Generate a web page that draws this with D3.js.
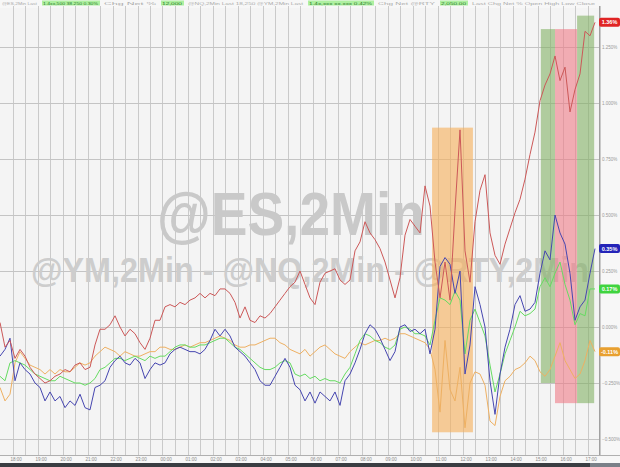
<!DOCTYPE html>
<html><head><meta charset="utf-8">
<script src="https://cdn.jsdelivr.net/npm/d3@7"></script>
<style>
html,body{margin:0;padding:0;background:#f6f6f6;}
svg{display:block;font-family:"Liberation Sans",Arial,sans-serif;}
</style></head>
<body><svg id="c" width="620" height="467"></svg>
<script>
// ---- data (percent change, 12-minute samples) ----
const stepMinutes = 12;
const seriesNames = ["@ES", "@NQ", "@YM", "@RTY"];
const red = [0.02,-0.09,-0.06,-0.14,-0.10,-0.13,-0.18,-0.21,-0.23,-0.25,
-0.24,-0.22,-0.21,-0.19,-0.20,-0.17,-0.16,-0.19,-0.18,-0.08,
-0.01,-0.01,0.01,0.05,0.00,-0.04,-0.01,-0.03,-0.07,-0.10,
-0.05,0.03,0.03,0.09,0.10,0.09,0.11,0.10,0.12,0.13,
0.15,0.13,0.15,0.14,0.17,0.17,0.15,0.11,0.04,0.09,
0.03,0.02,0.05,0.04,0.06,0.09,0.12,0.15,0.18,0.20,
0.25,0.19,0.13,0.10,0.20,0.24,0.25,0.26,0.21,0.19,
0.21,0.34,0.38,0.47,0.42,0.39,0.35,0.29,0.21,0.13,
0.22,0.41,0.48,0.45,0.42,0.63,0.54,0.29,0.13,0.29,
0.12,0.52,0.88,0.34,0.20,0.47,0.61,0.68,0.42,0.32,
0.28,0.37,0.44,0.51,0.57,0.66,0.77,0.87,1.01,1.08,
1.13,1.21,1.10,1.16,0.96,1.06,1.13,1.32,1.30,1.36];
const blue = [-0.13,-0.10,-0.05,-0.24,-0.16,-0.19,-0.21,-0.25,-0.27,-0.33,
-0.29,-0.33,-0.31,-0.36,-0.33,-0.35,-0.30,-0.36,-0.37,-0.27,
-0.26,-0.24,-0.18,-0.15,-0.13,-0.16,-0.17,-0.14,-0.16,-0.23,
-0.19,-0.16,-0.17,-0.16,-0.12,-0.10,-0.09,-0.10,-0.11,-0.11,
-0.12,-0.10,-0.06,-0.01,-0.04,-0.01,-0.04,-0.09,-0.11,-0.13,
-0.16,-0.19,-0.24,-0.26,-0.26,-0.22,-0.18,-0.14,-0.18,-0.26,
-0.28,-0.33,-0.29,-0.34,-0.29,-0.31,-0.33,-0.29,-0.35,-0.24,
-0.21,-0.16,-0.10,-0.03,0.01,-0.01,-0.05,-0.10,-0.15,-0.11,
0.00,0.01,-0.02,-0.01,-0.03,-0.01,-0.12,-0.01,0.27,0.31,
0.28,0.15,0.25,-0.21,-0.08,0.18,0.10,0.00,-0.24,-0.39,
-0.21,-0.09,-0.01,0.10,0.14,0.07,0.08,0.11,0.24,0.34,
0.30,0.50,0.42,0.37,0.24,0.03,0.09,0.12,0.24,0.35];
const green = [-0.22,-0.24,-0.16,-0.15,-0.16,-0.17,-0.19,-0.21,-0.22,-0.23,
-0.24,-0.24,-0.22,-0.23,-0.24,-0.25,-0.25,-0.26,-0.25,-0.23,
-0.19,-0.18,-0.16,-0.14,-0.14,-0.15,-0.14,-0.13,-0.14,-0.15,
-0.13,-0.14,-0.13,-0.13,-0.11,-0.09,-0.08,-0.08,-0.09,-0.09,
-0.08,-0.08,-0.07,-0.06,-0.05,-0.05,-0.07,-0.09,-0.10,-0.12,
-0.14,-0.16,-0.18,-0.19,-0.19,-0.18,-0.16,-0.15,-0.16,-0.21,
-0.22,-0.21,-0.23,-0.22,-0.24,-0.23,-0.24,-0.24,-0.25,-0.21,
-0.18,-0.12,-0.06,-0.03,-0.04,-0.06,-0.07,-0.09,-0.10,-0.08,
-0.01,0.00,-0.01,-0.03,-0.03,-0.04,-0.08,0.03,0.13,0.12,
0.10,0.16,0.12,-0.12,0.03,0.08,0.02,-0.04,-0.17,-0.29,
-0.21,-0.12,-0.06,0.00,0.07,0.05,0.06,0.08,0.18,0.22,
0.18,0.24,0.29,0.19,0.12,0.01,0.06,0.05,0.17,0.17];
const orange = [-0.27,-0.33,-0.30,-0.16,-0.11,-0.14,-0.17,-0.18,-0.19,-0.21,
-0.19,-0.21,-0.19,-0.20,-0.20,-0.18,-0.16,-0.17,-0.16,-0.13,
-0.11,-0.09,-0.10,-0.11,-0.13,-0.11,-0.12,-0.13,-0.13,-0.12,
-0.11,-0.11,-0.09,-0.09,-0.10,-0.10,-0.09,-0.08,-0.09,-0.08,
-0.07,-0.07,-0.06,-0.05,-0.04,-0.05,-0.06,-0.08,-0.09,-0.09,
-0.08,-0.08,-0.07,-0.06,-0.05,-0.05,-0.07,-0.08,-0.10,-0.11,
-0.12,-0.10,-0.13,-0.11,-0.09,-0.08,-0.10,-0.12,-0.13,-0.14,
-0.11,-0.09,-0.07,-0.08,-0.07,-0.06,-0.06,-0.05,-0.06,-0.05,
-0.03,-0.03,-0.04,-0.05,-0.06,-0.07,-0.10,-0.19,-0.38,-0.06,
-0.28,-0.33,-0.18,-0.45,-0.25,-0.20,-0.21,-0.26,-0.42,-0.44,
-0.31,-0.24,-0.22,-0.19,-0.18,-0.16,-0.13,-0.15,-0.20,-0.22,
-0.19,-0.13,-0.07,-0.15,-0.19,-0.23,-0.21,-0.15,-0.06,-0.11];
const lastLabels = ["1.36%", "0.35%", "0.17%", "-0.11%"];
const yTickValues = [-0.5,-0.25,0,0.25,0.5,0.75,1.0,1.25];
// highlighted windows: minutes from start, percent top/bottom
const bandFrom = [1037, 1298, 1332, 1385];
const bandTo   = [1135, 1332, 1385, 1426];
const bandTop  = [0.89, 1.33, 1.33, 1.39];
const bandBot  = [-0.47, -0.25, -0.34, -0.34];
const bandKind = ["orange", "green", "red", "green"];
const headerTexts = ["@ES,2Min Last", "1.4xx,500  38.250  0.30%", "Chg  Net  %", "12,000", "@NQ,2Min Last 18,250  @YM,2Min  Last", "1.4x,xxx  xx.xxx  0.42%", "Chg  Net  @RTY", "2,050.00", "Last  Chg  Net  %  Open  High  Low  Close"];
const headerGreen = [false,true,false,true,false,true,false,true,false];

// ---- layout ----
const W = 620, H = 467;
const plot = {left: 0, right: 599, top: 8, bottom: 455};
const start = new Date(2024, 0, 8, 17, 30);
const times = red.map((_, i) => d3.timeMinute.offset(start, i * stepMinutes));
const end = d3.timeMinute.offset(start, (red.length - 1) * stepMinutes);

const x = d3.scaleTime().domain([start, end]).range([plot.left, 595]);
const y = d3.scaleLinear().domain([-0.5714, 1.4241]).range([plot.bottom, plot.top]);

const svg = d3.select("#c");
svg.append("rect").attr("x",0).attr("y",0).attr("width",W).attr("height",H).attr("fill","#f7f7f7");
svg.append("rect").attr("x",plot.left).attr("y",plot.top).attr("width",plot.right-plot.left).attr("height",plot.bottom-plot.top).attr("fill","#f4f4f4");

// vertical grid every 30 minutes
const halfHours = d3.timeMinute.every(30).range(start, d3.timeMinute.offset(end, 20)).filter(d => +d > +start);
svg.append("g").selectAll("line").data(halfHours).join("line")
  .attr("x1", d => Math.round(x(d)) + 0.5).attr("x2", d => Math.round(x(d)) + 0.5)
  .attr("y1", plot.top - 2).attr("y2", plot.bottom)
  .attr("stroke", "#cacaca").attr("stroke-width", 1);
// horizontal grid
svg.append("g").selectAll("line").data(yTickValues).join("line")
  .attr("x1", plot.left).attr("x2", plot.right)
  .attr("y1", d => Math.round(y(d)) + 0.5).attr("y2", d => Math.round(y(d)) + 0.5)
  .attr("stroke", "#c4c4c4").attr("stroke-width", 1);

// right axis
svg.append("line").attr("x1", plot.right + 0.5).attr("x2", plot.right + 0.5).attr("y1", plot.top - 2).attr("y2", plot.bottom)
  .attr("stroke", "#a0a0a0");
svg.append("line").attr("x1", 0).attr("x2", W).attr("y1", plot.bottom + 0.5).attr("y2", plot.bottom + 0.5).attr("stroke", "#b0b0b0");
const yAxis = d3.axisRight(y).tickValues(yTickValues).tickSize(0).tickPadding(3)
  .tickFormat(d => d3.format(".3f")(d) + "%");
const ya = svg.append("g").attr("transform", `translate(${plot.right},0)`).call(yAxis);
ya.select(".domain").remove();
ya.selectAll("text").attr("font-size", 4.5).attr("fill", "#9a9a9a");

// x axis
const hours = halfHours.filter(d => d.getMinutes() === 0);
const xAxis = d3.axisBottom(x).tickValues(hours).tickSize(0).tickPadding(3).tickFormat(d3.timeFormat("%H:%M"));
const xa = svg.append("g").attr("transform", `translate(3,${plot.bottom})`).call(xAxis);
xa.select(".domain").remove();
xa.selectAll("text").attr("font-size", 4.5).attr("fill", "#8a8a8a");

// bottom dark bar
svg.append("rect").attr("x", 0).attr("y", 463).attr("width", W).attr("height", 4).attr("fill", "#3a3d42");
svg.append("rect").attr("x", 590).attr("y", 463).attr("width", 30).attr("height", 4).attr("fill", "#7a8088");

// header strip
let hx = 1;
const hw = [38, 58, 55, 23, 118, 66, 60, 28, 126];
const hg = svg.append("g");
headerTexts.forEach((t, i) => {
  if (headerGreen[i]) hg.append("rect").attr("x", hx).attr("y", 0.5).attr("width", hw[i]).attr("height", 5).attr("fill", "#aef0a0");
  hg.append("text").attr("x", hx + 1).attr("y", 4.5).attr("font-size", 4.3)
    .attr("fill", headerGreen[i] ? "#2b7a2b" : "#aaaaaa").attr("textLength", hw[i] - 3).attr("lengthAdjust", "spacingAndGlyphs").text(t);
  hx += hw[i] + 3;
});

// watermark (horizontally condensed)
svg.append("text").attr("transform", "translate(157,235) scale(0.888,1)").attr("font-size", 62).attr("font-weight", "bold")
  .attr("fill", "#c9c9c9").text("@ES,2Min");
svg.append("text").attr("transform", "translate(31,282) scale(0.924,1)").attr("font-size", 35).attr("font-weight", "bold")
  .attr("fill", "#cdcdcd").text("@YM,2Min - @NQ,2Min - @RTY,2Min");

// bands
const bandFill = {orange: "rgba(246,176,92,0.62)", green: "rgba(128,176,96,0.58)", red: "rgba(240,120,132,0.58)"};
const bands = bandFrom.map((f, i) => ({f, t: bandTo[i], top: bandTop[i], bot: bandBot[i], k: bandKind[i]}));
svg.append("g").selectAll("rect").data(bands).join("rect")
  .attr("x", d => x(d3.timeMinute.offset(start, d.f)))
  .attr("width", d => x(d3.timeMinute.offset(start, d.t)) - x(d3.timeMinute.offset(start, d.f)))
  .attr("y", d => y(d.top)).attr("height", d => y(d.bot) - y(d.top))
  .attr("fill", d => bandFill[d.k]);

// lines
const series = [
  {v: orange, c: "#eeb062"},
  {v: green, c: "#66dc62"},
  {v: blue, c: "#4646b0"},
  {v: red, c: "#cc5858"}
];
const line = d3.line().x((d, i) => x(times[i])).y(d => y(d));
svg.append("g").selectAll("path").data(series).join("path")
  .attr("d", d => line(d.v)).attr("fill", "none").attr("stroke", d => d.c).attr("stroke-width", 1)
  .attr("stroke-linejoin", "round");

// last value labels
const labelData = [
  {v: red[red.length-1], c: "#e02424", t: lastLabels[0]},
  {v: blue[blue.length-1], c: "#2424b8", t: lastLabels[1]},
  {v: green[green.length-1], c: "#3fd43f", t: lastLabels[2]},
  {v: orange[orange.length-1], c: "#e8a030", t: lastLabels[3]}
];
const lg = svg.append("g").selectAll("g").data(labelData).join("g")
  .attr("transform", d => `translate(${plot.right},${y(d.v)})`);
lg.append("rect").attr("x", 0).attr("y", -4.5).attr("width", 21).attr("height", 9).attr("rx", 2).attr("fill", d => d.c);
lg.append("text").attr("x", 10.5).attr("y", 2).attr("text-anchor", "middle").attr("font-size", 5.5)
  .attr("font-weight", "bold").attr("fill", "#ffffff").text(d => d.t);
</script></body></html>
